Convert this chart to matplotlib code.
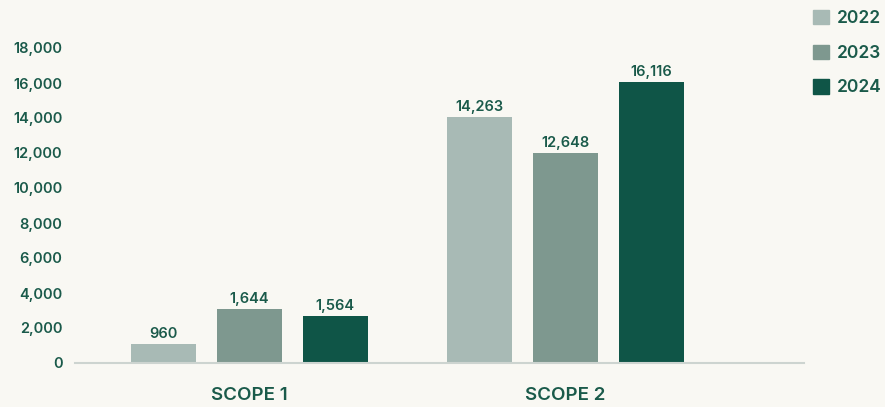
import numpy as np
import matplotlib.pyplot as plt
from matplotlib.patches import Patch

scopes = ["SCOPE 1", "SCOPE 2"]
years = ["2022", "2023", "2024"]
# bar heights as drawn in the picture
heights = {
    "2022": [1090, 14080],
    "2023": [3070, 12000],
    "2024": [2690, 16060],
}
# value labels printed above the bars
labels = {
    "2022": ["960", "14,263"],
    "2023": ["1,644", "12,648"],
    "2024": ["1,564", "16,116"],
}
colors = {"2022": "#a8bab5", "2023": "#7e988f", "2024": "#0f5547"}
yticks = [0, 2000, 4000, 6000, 8000, 10000, 12000, 14000, 16000, 18000]

txt = "#1a5a4a"
bg = "#f9f8f3"
plt.rcParams["font.family"] = ["Inter", "DejaVu Sans"]
wt = "semibold"

fig = plt.figure(figsize=(8.85, 4.07), dpi=100, facecolor=bg)
ax = fig.add_axes([75 / 885, 1 - 363 / 407, 729 / 885, 315 / 407])
ax.set_facecolor(bg)

x = np.arange(len(scopes))
w = 0.206
step = 0.272
for i, y in enumerate(years):
    bars = ax.bar(x + (i - 1) * step, heights[y], width=w, color=colors[y], label=y)
    ax.bar_label(bars, labels=labels[y], padding=2, fontsize=10.5,
                 color=txt, fontweight=wt)

ax.set_xlim(-0.552, 1.755)
ax.set_ylim(0, 18000)
ax.set_yticks(yticks)
ax.set_yticklabels([f"{v:,}" for v in yticks])
ax.set_xticks(x)
ax.set_xticklabels(scopes)

for s in ["top", "right", "left"]:
    ax.spines[s].set_visible(False)
ax.spines["bottom"].set_color("#cdd4d0")
ax.spines["bottom"].set_linewidth(1.5)
ax.tick_params(axis="y", length=0, pad=9, labelsize=10.5, labelcolor=txt)
ax.tick_params(axis="x", length=0, pad=17, labelsize=13.5, labelcolor=txt)
for t in ax.get_yticklabels() + ax.get_xticklabels():
    t.set_fontweight(wt)

handles = [Patch(color=colors[y]) for y in years]
leg = fig.legend(handles, years, loc="upper left", bbox_to_anchor=(813 / 885, 1 - 10 / 407),
                 frameon=False, fontsize=12.5, handlelength=0.9, handleheight=0.9,
                 handletextpad=0.45, labelspacing=1.0, borderpad=0, borderaxespad=0)
for t in leg.get_texts():
    t.set_color(txt)
    t.set_fontweight(wt)

fig.savefig("out.png", dpi=100, facecolor=bg)
